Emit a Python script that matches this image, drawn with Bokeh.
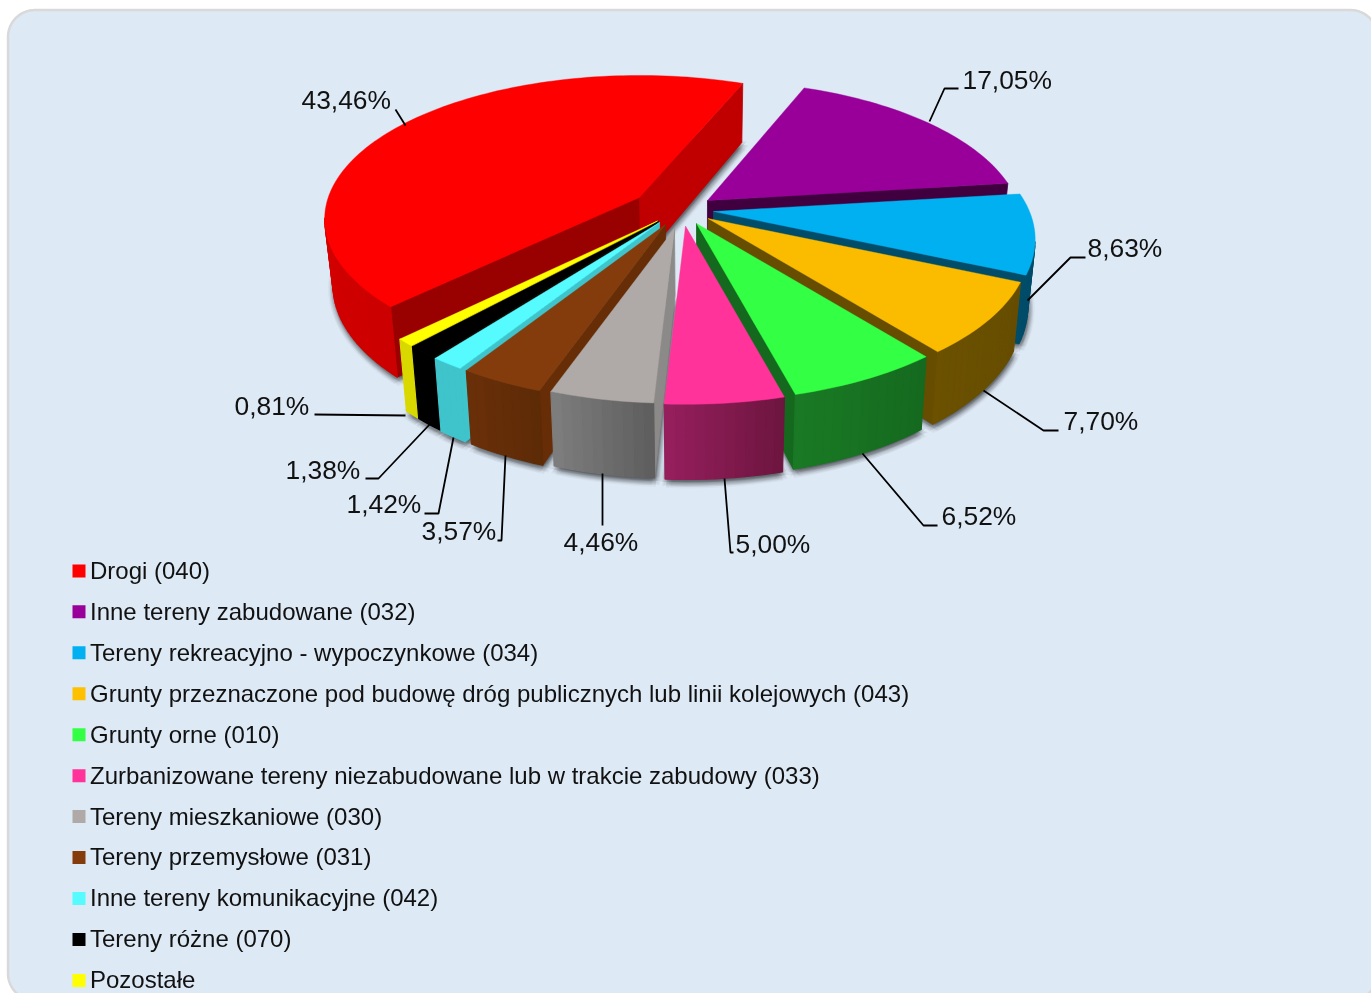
import math
from bokeh.plotting import figure
from bokeh.models import Range1d, ColumnDataSource
from bokeh.core.properties import value
from bokeh.embed import file_html
from bokeh.resources import INLINE

# ---- data ----
names = ["Drogi (040)", "Inne tereny zabudowane (032)", "Tereny rekreacyjno - wypoczynkowe (034)",
         "Grunty przeznaczone pod budowę dróg publicznych lub linii kolejowych (043)", "Grunty orne (010)",
         "Zurbanizowane tereny niezabudowane lub w trakcie zabudowy (033)", "Tereny mieszkaniowe (030)",
         "Tereny przemysłowe (031)", "Inne tereny komunikacyjne (042)", "Tereny różne (070)", "Pozostałe"]
values = [43.46, 17.05, 8.63, 7.70, 6.52, 5.00, 4.46, 3.57, 1.42, 1.38, 0.81]

# ---- styling ----
top_colors = ["#FF0000", "#990099", "#00B0F0", "#FBBC00", "#33FF44", "#FF3399", "#AFAAA7", "#843C0C", "#55FBFF", "#000000", "#FFFF00"]
legend_colors = ["#FF0000", "#990099", "#00B0F0", "#FFC000", "#33FF44", "#FF3399", "#AFAAA7", "#843C0C", "#55FBFF", "#000000", "#FFFF00"]
edge_colors = ["#990000", "#400040", "#004C69", "#664D00", "#15691F", "#8B1A58", "#8C8A88", "#662D06", "#3FC4CC", "#000000", "#D9D900"]
end_edge_colors = ["#C00000", "#400040", "#004C69", "#664D00", "#15691F", "#8B1A58", "#8C8A88", "#662D06", "#3FC4CC", "#000000", "#D9D900"]
wall_a = ["#CC0000", "#400040", "#004C69", "#664D00", "#156A1F", "#6E1540", "#5F5F5F", "#5E2B07", "#3FC4CC", "#000000", "#D9D900"]
wall_b = ["#F00000", "#400040", "#004C69", "#6B5100", "#1A7A24", "#98205F", "#808080", "#6B3008", "#3FC4CC", "#000000", "#D9D900"]

# pie geometry (screen pixels)
PIE_X, PIE_Y = 673.0, 209.0
RADIUS = 316.0
FIRST_END_ANGLE = 21.5
turn = [0.7] + [0.0] * 10
persp = [0.15] + [0.187] * 10
minor = [142.5] + [145.0] * 10
scale = [0.985, 0.98, 1.0, 1.0, 1.0, 1.0, 0.98, 1.0, 1.0, 1.0, 1.0]
explode_x = [-34, 34, 40, 34.5, 23, 12, 1, -8, -14, -15, -16]
explode_y = [-12, -9, 2, 9, 14, 16.5, 19, 15, 13, 12, 11.5]
DROP_X, SHRINK = 700.0, 0.978
DEPTH0, DEPTH_SLOPE = 59.0, 0.05
draw_order = [0, 1, 2, 3, 4, 10, 9, 8, 7, 6, 5]

label_x = [301, 962, 1087, 1063, 941, 735, 563, 421, 346, 285, 234]
label_y = [99, 79, 247, 420, 515, 543, 541, 530, 503, 469, 405]
leader_xs = [[395, 405], [958, 944, 929], [1085, 1070, 1027], [1058, 1043, 983], [937, 923, 862],
             [733, 730, 724], [602, 602], [497, 501, 505], [424, 438, 453], [365, 378, 430], [314, 405]]
leader_ys = [[109, 125], [88, 88, 121], [257, 257, 300], [430, 430, 390], [525, 525, 453],
             [552, 552, 478], [525, 473], [540, 540, 455], [513, 513, 437], [478, 478, 423], [414, 415]]
LEGEND_X, LEGEND_TOP, LEGEND_STEP = 72, 570.4, 40.95
legend_text_y = [570, 611, 652, 693, 734, 775, 816, 856, 897, 938, 979]


def hexmix(a, b, t):
    ca = [int(a[i:i + 2], 16) for i in (1, 3, 5)]
    cb = [int(b[i:i + 2], 16) for i in (1, 3, 5)]
    return "#%02X%02X%02X" % tuple(round(x + (y - x) * t) for x, y in zip(ca, cb))


def rim(i, deg):
    t = math.radians(deg + turn[i])
    u, v = math.sin(t), math.cos(t)
    w = 1 + persp[i] * v
    return (PIE_X + explode_x[i] + scale[i] * RADIUS * u / w,
            PIE_Y + explode_y[i] - scale[i] * minor[i] * v / w)


def drop(pt):
    x, y = pt
    return (DROP_X + (x - DROP_X) * SHRINK, y + DEPTH0 + (y - 82) * DEPTH_SLOPE)


total = sum(values)
starts, ends = [], []
a = FIRST_END_ANGLE - values[0] / total * 360
for val in values:
    starts.append(a)
    a += val / total * 360
    ends.append(a)

polys = []  # x, y, colour, alpha


def add(pts, col, alpha=1.0, lw=0.8):
    polys.append(([q[0] for q in pts], [q[1] for q in pts], col, alpha, lw))


# soft shadows
for i in range(len(values)):
    n = max(6, int((ends[i] - starts[i]) / 3))
    arc = [rim(i, starts[i] + (ends[i] - starts[i]) * k / n) for k in range(n + 1)]
    apex = (PIE_X + explode_x[i], PIE_Y + explode_y[i])
    base = [drop(apex)] + [drop(q) for q in arc]
    for r in (6.0, 4.5, 3.0, 1.5):
        for d in range(8):
            ox = 1 + r * math.cos(d * math.pi / 4)
            oy = 3 + r * math.sin(d * math.pi / 4)
            add([(x + ox, y + oy) for x, y in base], "#000000", 0.03, 0)

# solid slices
for i in draw_order:
    n = max(4, int((ends[i] - starts[i]) / 1.5))
    angles = [starts[i] + (ends[i] - starts[i]) * k / n for k in range(n + 1)]
    arc = [rim(i, t) for t in angles]
    apex = (PIE_X + explode_x[i], PIE_Y + explode_y[i])
    if arc[0][0] < apex[0]:
        add([apex, arc[0], drop(arc[0]), drop(apex)], edge_colors[i])
    if arc[-1][0] > apex[0]:
        add([arc[-1], apex, drop(apex), drop(arc[-1])], end_edge_colors[i])
    for k in range(n):
        if arc[k + 1][0] < arc[k][0]:
            add([arc[k], arc[k + 1], drop(arc[k + 1]), drop(arc[k])], hexmix(wall_a[i], wall_b[i], k / n), 1.0, 1.2)
    add([apex] + arc, top_colors[i], 1.0, 0.4)

# panel
PL, PT, PR, PB, PC = 7.5, 9.5, 1377.0, 1000.0, 27.0
panel = []
for cx, cy, a0 in ((PR - PC, PT + PC, -90), (PR - PC, PB - PC, 0), (PL + PC, PB - PC, 90), (PL + PC, PT + PC, 180)):
    for k in range(16):
        t = math.radians(a0 + 6 * k)
        panel.append((cx + PC * math.cos(t), cy + PC * math.sin(t)))

p = figure(width=1371, height=993, output_backend="svg", toolbar_location=None,
           x_range=Range1d(0, 1371), y_range=Range1d(993, 0), x_axis_type=None, y_axis_type=None,
           min_border=0, outline_line_color=None, background_fill_color="#FFFFFF",
           border_fill_color="#FFFFFF", styles={"position": "fixed", "left": "0", "top": "0"})
p.grid.visible = False

p.patch([q[0] for q in panel], [q[1] for q in panel], fill_color="#DDE9F5", line_color="#D9D9D9", line_width=2.5)

src = ColumnDataSource(dict(xs=[q[0] for q in polys], ys=[q[1] for q in polys], c=[q[2] for q in polys],
                            a=[q[3] for q in polys], lw=[q[4] for q in polys]))
p.patches("xs", "ys", source=src, fill_color="c", fill_alpha="a", line_color="c", line_alpha="a", line_width="lw")

p.multi_line(leader_xs, leader_ys, line_color="#000000", line_width=1.8)

p.text(label_x, label_y, text=[f"{v:.2f}".replace(".", ",") + "%" for v in values], text_font=value("Liberation Sans"),
       text_font_size="26.4px", text_baseline="middle", text_align="left", text_color="#111111")

ly = [LEGEND_TOP + LEGEND_STEP * k for k in range(len(names))]
p.rect([LEGEND_X + 6.5] * len(names), ly, width=13, height=13, fill_color=legend_colors, line_color=None)
p.text([LEGEND_X + 17.5] * len(names), legend_text_y, text=names, text_font=value("Liberation Sans"), text_font_size="24px",
       text_baseline="middle", text_align="left", text_color="#111111")

open("out.html", "w").write(file_html(p, INLINE))
